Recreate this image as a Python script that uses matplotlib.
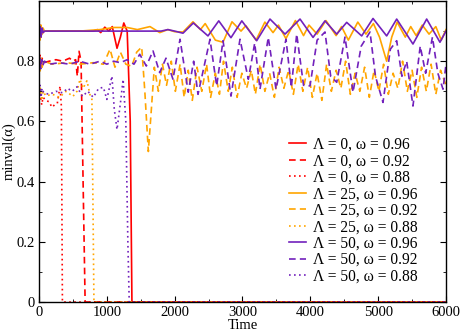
import matplotlib
matplotlib.use("Agg")
import matplotlib.pyplot as plt
from matplotlib.ticker import MultipleLocator

plt.rcParams['font.family'] = ['Liberation Serif', 'DejaVu Serif']

# Lambda = 0 (red)
t_r96 = [0, 15, 30, 45, 60, 80, 200, 400, 600, 800, 860, 910, 970, 1030, 1080,
         1150, 1200, 1250, 1300, 1345, 1370, 6000]
v_r96 = [.90, .92, .88, .91, .895, .90, .90, .90, .90, .90, .905, .895, .913, .90, .915,
         .843, .88, .927, .90, .60, 0, 0]
t_r92 = [0, 15, 30, 45, 70, 150, 250, 350, 450, 500, 540, 565, 590, 620, 650, 680, 6000]
v_r92 = [.80, .82, .78, .81, .795, .80, .805, .80, .81, .80, .805, .75, .833, .80, .40, 0, 0]
t_r88 = [0, 20, 40, 60, 100, 150, 190, 230, 270, 310, 330, 345, 6000]
v_r88 = [.67, .69, .655, .68, .67, .665, .647, .655, .66, .717, .65, 0, 0]

# Lambda = 25 (orange)
t_o96 = [0, 15, 30, 45, 60, 80, 300, 600, 900, 1100, 1300, 1450, 1636, 1780, 1900,
         2000, 2123, 2270, 2380, 2450, 2600, 2712, 2845, 2978, 3050, 3200, 3330, 3450,
         3530, 3640, 3780, 3900, 3980, 4100, 4230, 4380, 4460, 4560, 4700, 4820, 4930,
         5020, 5125, 5200, 5280, 5400, 5480, 5560, 5650, 5750, 5850, 5930, 6000]
v_o96 = [.90, .87, .92, .89, .91, .90, .90, .90, .905, .912, .912, .905, .915, .895, .905,
         .898, .897, .931, .905, .925, .87, .863, .931, .90, .918, .87, .93, .895,
         .92, .875, .935, .885, .92, .89, .935, .885, .915, .87, .93, .89, .925,
         .88, .80, .88, .93, .88, .915, .885, .92, .89, .915, .87, .905]
t_o92 = [0, 15, 30, 45, 70, 200, 400, 600, 800, 950, 1047, 1120, 1200, 1280, 1367,
         1440, 1514, 1560, 1612, 1650, 1700, 1760, 1820, 1880, 1950, 2010, 2080, 2140,
         2200, 2260, 2330, 2400, 2470, 2530, 2600, 2660, 2720, 2790, 2850, 2920, 2990,
         3060, 3130, 3190, 3260, 3330, 3400, 3470, 3540, 3610, 3680, 3750, 3820, 3890,
         3960, 4030, 4100, 4170, 4240, 4310, 4380, 4450, 4520, 4590, 4660, 4730, 4800,
         4870, 4940, 5010, 5080, 5150, 5220, 5290, 5360, 5430, 5500, 5570, 5640, 5710,
         5780, 5850, 5920, 6000]
v_o92 = [.79, .76, .81, .78, .80, .79, .795, .79, .795, .79, .84, .78, .83, .79, .783,
         .83, .847, .70, .50, .62, .78, .70, .79, .72, .80, .70, .79, .68,
         .77, .67, .78, .70, .79, .68, .76, .69, .80, .70, .78, .68, .76,
         .71, .77, .69, .79, .70, .76, .68, .78, .71, .77, .69, .79, .70,
         .78, .68, .76, .67, .79, .70, .77, .71, .80, .69, .76, .70, .78,
         .68, .77, .70, .79, .69, .76, .71, .80, .70, .77, .68, .78, .70,
         .79, .69, .77, .72]
t_o88 = [0, 20, 40, 60, 100, 200, 300, 400, 500, 560, 604, 650, 707, 750, 780, 810, 6000]
v_o88 = [.69, .71, .67, .70, .685, .69, .68, .70, .683, .70, .74, .71, .735, .69, .673, 0, 0]

# Lambda = 50 (purple)
t_p96 = [0, 15, 30, 45, 60, 80, 300, 600, 900, 1200, 1500, 1800, 1900, 2000, 2123,
         2275, 2491, 2650, 2830, 2990, 3209, 3405, 3627, 3848, 4040, 4216, 4389, 4536,
         4757, 4924, 5125, 5273, 5513, 5715, 5911, 6000]
v_p96 = [.90, .915, .88, .91, .895, .90, .90, .90, .90, .90, .90, .90, .905, .90, .893,
         .927, .884, .934, .878, .934, .868, .94, .89, .94, .879, .934, .89, .929,
         .884, .942, .884, .94, .857, .94, .863, .90]
t_p92 = [0, 15, 25, 40, 55, 80, 150, 300, 450, 600, 750, 900, 1000, 1100, 1200, 1300,
         1400, 1485, 1582, 1681, 1779, 1872, 1975, 2079, 2200, 2280, 2344, 2521, 2619,
         2713, 2830, 2963, 3086, 3180, 3258, 3380, 3494, 3641, 3720, 3799, 3900, 3995,
         4100, 4216, 4300, 4389, 4511, 4629, 4750, 4880, 4960, 5071, 5180, 5273, 5350,
         5420, 5513, 5620, 5700, 5800, 5880, 5956, 6000]
v_p92 = [.79, .81, .775, .805, .785, .80, .79, .795, .79, .80, .79, .80, .79, .80, .795, .805,
         .79, .823, .784, .834, .762, .81, .74, .873, .697, .80, .69, .873, .718,
         .868, .684, .873, .74, .86, .707, .879, .707, .873, .713, .89, .72, .718,
         .87, .897, .75, .73, .88, .697, .85, .897, .75, .663, .84, .868, .75,
         .80, .651, .85, .76, .88, .76, .707, .79]
t_p88 = [0, 15, 30, 45, 70, 150, 250, 350, 420, 490, 560, 640, 720, 800, 880, 950,
         1000, 1075, 1110, 1150, 1200, 1240, 1280, 1310, 1330, 6000]
v_p88 = [.70, .72, .68, .71, .695, .69, .70, .695, .71, .70, .715, .683, .70, .68, .71, .713,
         .673, .75, .64, .573, .66, .74, .60, .20, 0, 0]

red = '#ff0000'
orange = '#ffa500'
purple = '#7221bc'
dash = (4, 2.5)
dot = (1, 2)

series = [
    (t_r96, v_r96, red, None, 'Λ = 0, ω = 0.96'),
    (t_r92, v_r92, red, dash, 'Λ = 0, ω = 0.92'),
    (t_r88, v_r88, red, dot, 'Λ = 0, ω = 0.88'),
    (t_o96, v_o96, orange, None, 'Λ = 25, ω = 0.96'),
    (t_o92, v_o92, orange, dash, 'Λ = 25, ω = 0.92'),
    (t_o88, v_o88, orange, dot, 'Λ = 25, ω = 0.88'),
    (t_p96, v_p96, purple, None, 'Λ = 50, ω = 0.96'),
    (t_p92, v_p92, purple, dash, 'Λ = 50, ω = 0.92'),
    (t_p88, v_p88, purple, dot, 'Λ = 50, ω = 0.88'),
]

fig = plt.figure(figsize=(4.63, 3.32), dpi=100)
ax = fig.add_axes([39 / 463, 30 / 332, 407 / 463, 301 / 332])

for t, v, c, d, lab in series:
    line, = ax.plot(t, v, color=c, lw=1.2, label=lab)
    if d is not None:
        line.set_dashes(d)

ax.set_xlim(0, 6000)
ax.set_ylim(0, 1.0)
ax.set_yticks([0, 0.2, 0.4, 0.6, 0.8])
ax.set_yticklabels(['0', '0.2', '0.4', '0.6', '0.8'])
ax.xaxis.set_major_locator(MultipleLocator(1000))
ax.xaxis.set_minor_locator(MultipleLocator(500))
ax.yaxis.set_minor_locator(MultipleLocator(0.1))
ax.tick_params(which='both', direction='in', top=True, right=True, labelsize=10.5, pad=3)
ax.tick_params(which='major', length=4.5)
ax.tick_params(which='minor', length=2.3)
for s in ax.spines.values():
    s.set_linewidth(1.0)

ax.set_xlabel('Time', fontsize=10.5, labelpad=0)
ax.set_ylabel('minval(α)', fontsize=10.5)
ax.yaxis.set_label_coords(-0.058, 0.5)

ax.legend(loc='lower right', bbox_to_anchor=(0.93, 0.058), frameon=False,
          fontsize=11.2, handlelength=1.1, handletextpad=0.45, labelspacing=0.03,
          borderpad=0, borderaxespad=0)

fig.savefig('out.png', dpi=100)
